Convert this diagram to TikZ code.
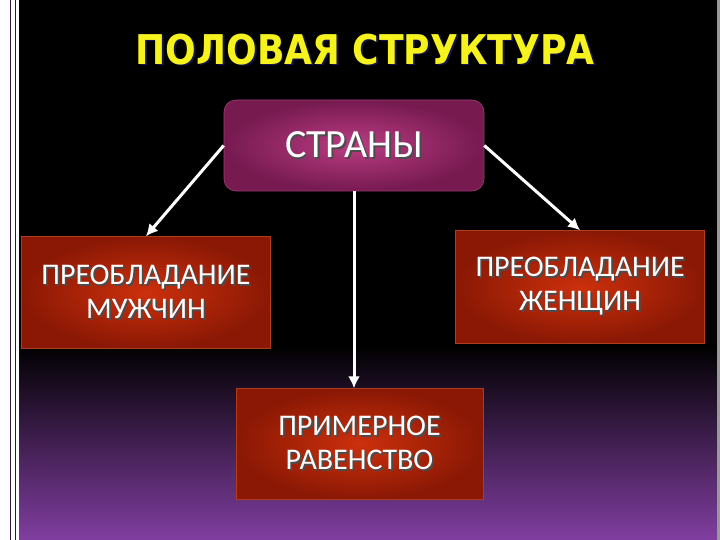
\documentclass[tikz,border=0pt]{standalone}
\usepackage{fontspec}
\newfontfamily\titlefont[FakeStretch=0.88]{DejaVu Sans}
\newfontfamily\boxfont{Carlito}
\usetikzlibrary{arrows.meta, positioning}

\definecolor{titleyellow}{RGB}{246,242,30}
\definecolor{titleshadow}{RGB}{20,20,90}
\definecolor{magdark}{RGB}{118,26,80}
\definecolor{maglight}{RGB}{186,60,130}
\definecolor{magedge}{RGB}{160,60,120}
\definecolor{reddark}{RGB}{138,24,4}
\definecolor{redlight}{RGB}{204,48,12}
\definecolor{rededge}{RGB}{176,62,30}
\definecolor{bgpurple}{RGB}{128,62,160}
\definecolor{frameline}{RGB}{50,24,60}

% text with a dark drop shadow
\newcommand{\shadowtext}[2]{\leavevmode\rlap{\kern1.8pt\raisebox{-1.8pt}{\color{#1}#2}}#2}

\begin{document}
\begin{tikzpicture}[
    x=1pt, y=-1pt,
    box/.style={minimum width=249pt, minimum height=112pt, inner sep=0pt, align=center,
        text=white, font=\boxfont\fontsize{30}{34}\selectfont},
    redbox/.style={box, draw=rededge, line width=0.6pt, inner color=redlight, outer color=reddark},
    topbox/.style={box, draw=magedge, line width=0.6pt, rounded corners=12pt,
        inner color=maglight, outer color=magdark, minimum width=260pt, minimum height=91pt,
        font=\boxfont\fontsize{40}{42}\selectfont},
    link/.style={draw=white, line width=3pt, -{Latex[length=12pt,width=12pt]}}
]
    \useasboundingbox (0,0) rectangle (720,540);
    % slide background
    \fill[white] (0,0) rectangle (720,540);
    \fill[black] (19,0) rectangle (717,540);
    \shade[top color=black, bottom color=bgpurple] (19,345) rectangle (717,540);
    \fill[gray!80] (717,0) rectangle (720,540);
    \draw[frameline, line width=1pt] (10.8,0) -- (10.8,540);
    \draw[frameline, line width=1pt] (15.8,0) -- (15.8,540);

    \node[text=titleyellow, font=\titlefont\bfseries\fontsize{41}{44}\selectfont] (title) at (365,50)
        {\shadowtext{titleshadow}{ПОЛОВАЯ СТРУКТУРА}};

    \node[topbox] (country) at (354,145.5) {\shadowtext{black!70}{СТРАНЫ}};
    \node[redbox, below left=45pt and -47pt of country] (men)
        {\shadowtext{black!70}{ПРЕОБЛАДАНИЕ}\\\shadowtext{black!70}{МУЖЧИН}};
    \node[redbox, below right=39pt and -29pt of country, minimum height=113pt] (women)
        {\shadowtext{black!70}{ПРЕОБЛАДАНИЕ}\\\shadowtext{black!70}{ЖЕНЩИН}};
    \node[redbox, below=197pt of country, xshift=5.5pt, minimum width=247pt, minimum height=111pt] (equal)
        {\shadowtext{black!70}{ПРИМЕРНОЕ}\\\shadowtext{black!70}{РАВЕНСТВО}};

    \draw[link] (country.west) -- (men.north);
    \draw[link] (country.east) -- (women.north);
    \draw[link] (country.south) -- (country.south |- equal.north);
\end{tikzpicture}
\end{document}
